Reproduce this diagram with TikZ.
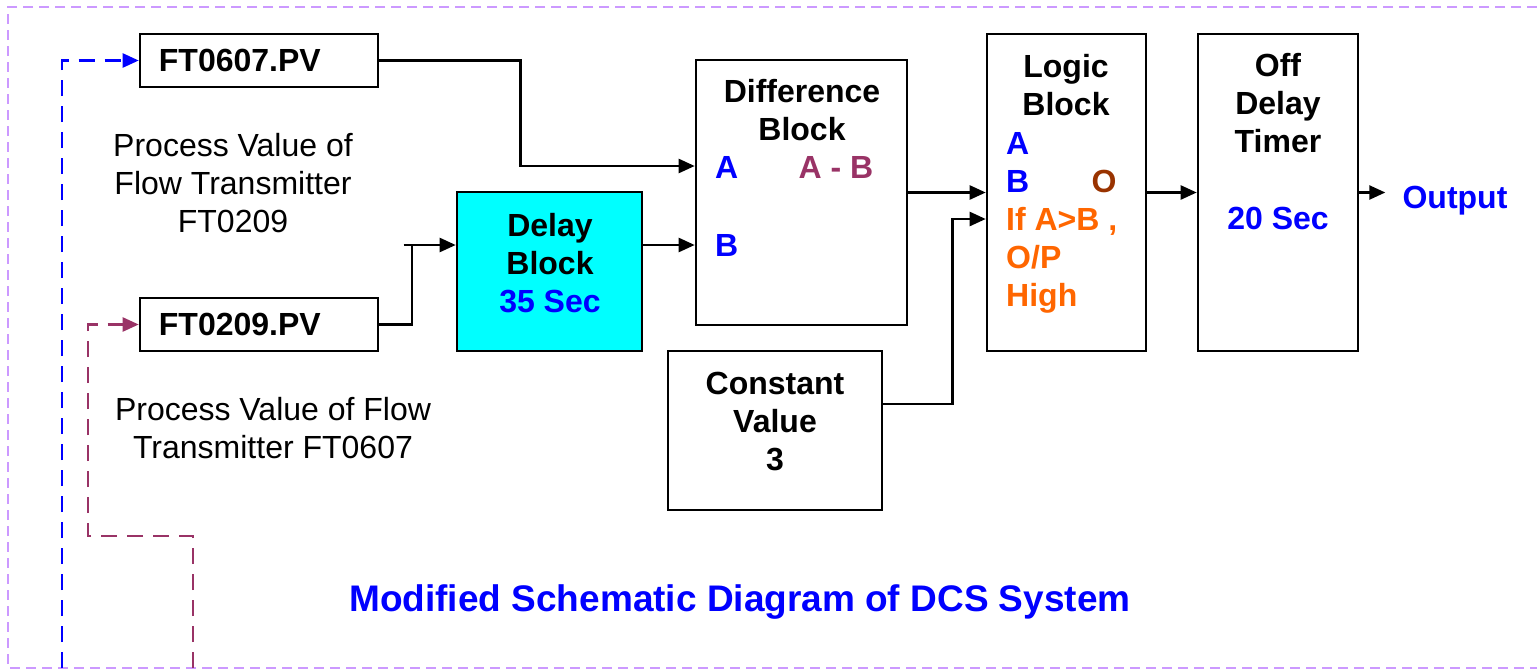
\documentclass[tikz,border=0pt]{standalone}
\usepackage{fontspec}
\setmainfont{Liberation Sans}
\usetikzlibrary{arrows.meta,positioning}
\definecolor{dcsblue}{HTML}{0000FF}
\definecolor{dcspurple}{HTML}{993366}
\definecolor{dcsbrown}{HTML}{993300}
\definecolor{dcsorange}{HTML}{FF6600}
\definecolor{dcscyan}{HTML}{00FFFF}
\definecolor{lavender}{HTML}{CC99FF}

\begin{document}
\begin{tikzpicture}[x=1pt,y=-1pt,
  blk/.style={draw,line width=2.6pt,inner sep=0},
  txt/.style={inner sep=0,font=\fontsize{32}{38}\selectfont\bfseries},
  plain/.style={inner sep=0,font=\fontsize{32}{38}\selectfont},
  arr/.style={line width=2.4pt,-{Triangle[length=16pt,width=14pt]}},
  fback/.style={line width=2.4pt,dash pattern=on 16pt off 10pt,-{Triangle[length=16pt,width=14pt]}}]

  \useasboundingbox (0,0) rectangle (1537,670);
  \draw[lavender,line width=2.6pt,dash pattern=on 10pt off 6pt] (1537,7) -- (8,7) -- (8,668) -- (1537,668);

  % blocks
  \node[blk,minimum width=238pt,minimum height=53pt] (ft0607) at (259,60.5) {};
  \node[blk,minimum width=238pt,minimum height=53pt] (ft0209) at (259,324.5) {};
  \node[blk,fill=dcscyan,minimum width=185pt,minimum height=159pt] (delay) at (549.5,271.5) {};
  \node[blk,minimum width=211pt,minimum height=265pt] (diff) at (801.5,192.5) {};
  \node[blk,minimum width=214pt,minimum height=159pt] (const) at (775,430.5) {};
  \node[blk,minimum width=159pt,minimum height=317pt] (logic) at (1066.5,192.5) {};
  \node[blk,minimum width=160pt,minimum height=317pt] (timer) at (1278,192.5) {};

  % texts
  \node[txt,right=20pt of ft0607.west] (t0607) {FT0607.PV};
  \node[txt,right=20pt of ft0209.west] (t0209) {FT0209.PV};
  \foreach \t [count=\i from 0] in {Difference,Block}
    \node[txt,anchor=base] (dt\i) at (802,102+38*\i) {\t};
  \node[txt,anchor=base west,dcsblue] (dA) at (715,178) {A};
  \node[txt,anchor=base,dcspurple] (dAB) at (836,178) {A - B};
  \node[txt,anchor=base west,dcsblue] (dB) at (715,256) {B};
  \node[txt,anchor=base] (yt0) at (550,236) {Delay};
  \node[txt,anchor=base] (yt1) at (550,274) {Block};
  \node[txt,anchor=base,dcsblue] (yt2) at (550,312) {35 Sec};
  \foreach \t [count=\i from 0] in {Constant,Value,3}
    \node[txt,anchor=base] (ct\i) at (775,394+38*\i) {\t};
  \foreach \t [count=\i from 0] in {Logic,Block}
    \node[txt,anchor=base] (lt\i) at (1066,77+38*\i) {\t};
  \node[txt,anchor=base west,dcsblue] (lA) at (1006,154) {A};
  \node[txt,anchor=base west,dcsblue] (lB) at (1006,192) {B};
  \node[txt,anchor=base,dcsbrown] (lO) at (1104,192) {O};
  \foreach \t [count=\i from 0] in {{If A>B ,},O/P,High}
    \node[txt,anchor=base west,dcsorange] (lc\i) at (1006,230+38*\i) {\t};
  \foreach \t [count=\i from 0] in {Off,Delay,Timer}
    \node[txt,anchor=base] (tt\i) at (1278,76+38*\i) {\t};
  \node[txt,anchor=base,dcsblue] (tsec) at (1278,229) {20 Sec};
  \node[txt,anchor=base,dcsblue] (out) at (1455,208) {Output};
  \foreach \t [count=\i from 0] in {Process Value of,Flow Transmitter,FT0209}
    \node[plain,anchor=base] (pa\i) at (233,156+38*\i) {\t};
  \foreach \t [count=\i from 0] in {Process Value of Flow,Transmitter FT0607}
    \node[plain,anchor=base] (pb\i) at (273,420+38*\i) {\t};
  \node[inner sep=0,anchor=base,dcsblue,font=\fontsize{37}{44}\selectfont\bfseries] (title) at (740,611) {Modified Schematic Diagram of DCS System};

  % connectors
  \coordinate (dlyin) at ([yshift=26.5pt]delay.west);
  \draw[arr] (ft0607.east) -- ++(141,0) |- ([yshift=26.5pt]diff.west);
  \draw[line width=2.4pt] (ft0209.east) -| ([xshift=-44pt]dlyin);
  \draw[arr] ([xshift=-52pt]dlyin) -- (dlyin);
  \draw[arr] (dlyin -| delay.east) -- (dlyin -| diff.west);
  \draw[arr] (diff.east) -- (logic.west);
  \draw[arr] ([yshift=26.5pt]const.east) -- ++(69,0) |- ([yshift=-26.5pt]logic.west);
  \draw[arr] (logic.east) -- (timer.west);
  \coordinate (outtip) at ([xshift=26pt]timer.east);
  \draw[arr] (timer.east) -- (outtip);

  % feedback lines
  \coordinate (fbA) at (62,668);
  \coordinate (fbB) at (193,668);
  \draw[fback,dcsblue] (fbA) |- (ft0607.west);
  \draw[fback,dcspurple] (fbB) |- (88,536) |- (ft0209.west);
\end{tikzpicture}
\end{document}
